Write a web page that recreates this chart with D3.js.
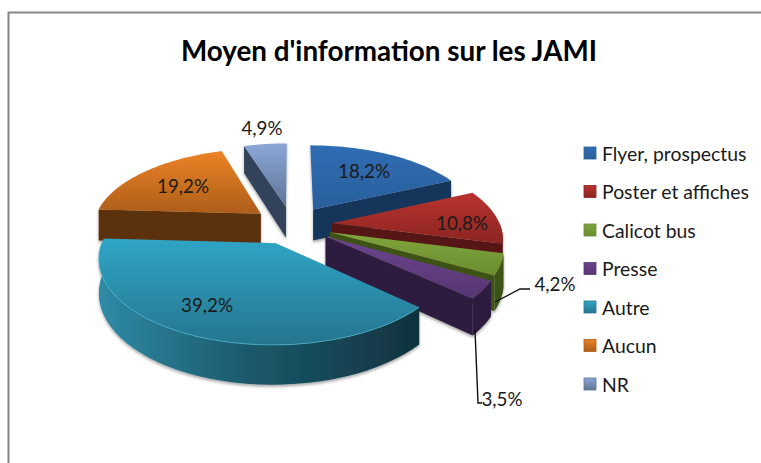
<!DOCTYPE html>
<meta charset="utf-8">
<style>
html, body { margin: 0; padding: 0; background: #fff; }
svg { display: block; }
text { font-family: Lato, "Open Sans", sans-serif; fill: #1a1a1a; }
</style>
<body>
<script src="https://d3js.org/d3.v7.min.js"></script>
<script>
// data
var categories = ["Flyer, prospectus", "Poster et affiches", "Calicot bus", "Presse", "Autre", "Aucun", "NR"];
var values = [18.2, 10.8, 4.2, 3.5, 39.2, 19.2, 4.9];
var labels = ["18,2%", "10,8%", "4,2%", "3,5%", "39,2%", "19,2%", "4,9%"];

// colours per slice: top of face, bottom of face, side
var topLight = ["#2f6db3", "#b9332f", "#7fa53c", "#6c448c", "#2fa5c6", "#ec8226", "#8ca7d6"];
var topDark = ["#2a5f9c", "#8c2522", "#6b8d30", "#573673", "#27758e", "#ad5e19", "#5e7598"];
var sideColor = ["#17345a", "#561412", "#3d5217", "#2d1d3f", "#123a47", "#5c300e", "#33435a"];

var width = 761, height = 463;

// fake 3D projection of the exploded pie
var cx = 292, cy = 225, rx = 168, ry = 79, persp = 0.16, depth = 32, explode = 0.24;

// label anchors, order = categories
var labelX = [364, 462, 555, 502, 207, 183, 262];
var labelY = [170, 222, 283, 398, 304, 185, 127];

var svg = d3.select("body").append("svg")
    .attr("width", width)
    .attr("height", height);

var defs = svg.append("defs");
var shadow = defs.append("filter").attr("id", "shadow")
    .attr("x", "-10%").attr("y", "-10%").attr("width", "120%").attr("height", "125%");
shadow.append("feDropShadow")
    .attr("dx", 0).attr("dy", 2).attr("stdDeviation", 1.6)
    .attr("flood-color", "#000").attr("flood-opacity", 0.35);

categories.forEach(function(c, i) {
  var g = defs.append("linearGradient").attr("id", "top" + i)
      .attr("x1", 0).attr("y1", 0).attr("x2", 0).attr("y2", 1);
  g.append("stop").attr("offset", 0).attr("stop-color", topLight[i]);
  g.append("stop").attr("offset", 1).attr("stop-color", topDark[i]);
});

var rim = defs.append("linearGradient").attr("id", "rimAutre")
    .attr("x1", 0).attr("y1", 0).attr("x2", 1).attr("y2", 0);
rim.append("stop").attr("offset", 0).attr("stop-color", "#2f8ba6");
rim.append("stop").attr("offset", 0.45).attr("stop-color", "#1c5a6d");
rim.append("stop").attr("offset", 1).attr("stop-color", "#10323e");

// frame
svg.append("path")
    .attr("d", "M8.5,463V12.5H" + width)
    .attr("fill", "none")
    .attr("stroke", "#868686")
    .attr("stroke-width", 2);

svg.append("text")
    .attr("x", 389).attr("y", 61)
    .attr("text-anchor", "middle")
    .attr("font-size", 27.8)
    .attr("font-weight", 700)
    .style("fill", "#000")
    .text("Moyen d'information sur les JAMI");

var pie = d3.pie().sort(null).value(function(d) { return d; });
var arcs = pie(values);
var line = d3.line();

function project(ox, oz, a, r, h) {
  var X = ox + Math.sin(a) * r,
      Z = oz - Math.cos(a) * r,
      p = 1 / (1 - Z * persp);
  return [cx + rx * X * p, cy + ry * Z * p + (h || 0) * p];
}

// back to front
var drawOrder = [6, 5, 0, 1, 2, 3, 4];
var layer = svg.append("g").attr("filter", "url(#shadow)");

drawOrder.forEach(function(i) {
  var d = arcs[i],
      mid = (d.startAngle + d.endAngle) / 2,
      ox = Math.sin(mid) * explode,
      oz = -Math.cos(mid) * explode,
      g = layer.append("g");

  var a0 = project(ox, oz, 0, 0), a1 = project(ox, oz, 0, 0, depth);

  // cut faces, only those turned to the viewer
  [d.startAngle, d.endAngle].forEach(function(a, k) {
    var visible = k === 0 ? Math.sin(a) < 0 : Math.sin(a) > 0;
    if (!visible) return;
    var quad = [a0, project(ox, oz, a, 1), project(ox, oz, a, 1, depth), a1];
    g.append("path").attr("d", line(quad) + "Z").attr("fill", sideColor[i]);
  });

  // visible part of the outer wall
  var from = Math.max(d.startAngle, Math.PI / 2),
      to = Math.min(d.endAngle, Math.PI * 1.5);
  var wallAngles = d3.range(0, 41).map(function(k) { return from + (to - from) * k / 40; });
  if (to > from) {
    var wall = wallAngles.map(function(a) { return project(ox, oz, a, 1); })
        .concat(wallAngles.slice().reverse().map(function(a) { return project(ox, oz, a, 1, depth); }));
    g.append("path").attr("d", line(wall) + "Z")
        .attr("fill", i === 4 ? "url(#rimAutre)" : sideColor[i]);
  }

  // top face
  var rimAngles = d3.range(0, 41).map(function(k) {
    return d.startAngle + (d.endAngle - d.startAngle) * k / 40;
  });
  var face = [a0].concat(rimAngles.map(function(a) { return project(ox, oz, a, 1); }));
  g.append("path").attr("d", line(face) + "Z").attr("fill", "url(#top" + i + ")");

  // light bevel along the front edge of the big slice
  if (i === 4) {
    g.append("path")
        .attr("d", line(wallAngles.map(function(a) { return project(ox, oz, a, 1); })))
        .attr("fill", "none")
        .attr("stroke", "#4cb6d3")
        .attr("stroke-opacity", 0.7)
        .attr("stroke-width", 1);
  }
});

// leader lines
var leaders = [[[495, 302], [520, 289], [530, 289]], [[475, 330], [478, 403], [482, 403]]];
svg.selectAll(".leader").data(leaders).enter().append("path")
    .attr("class", "leader")
    .attr("d", function(d) { return line(d); })
    .attr("fill", "none")
    .attr("stroke", "#111")
    .attr("stroke-width", 1.4);

svg.selectAll(".lbl").data(labels).enter().append("text")
    .attr("class", "lbl")
    .attr("x", function(d, i) { return labelX[i]; })
    .attr("y", function(d, i) { return labelY[i]; })
    .attr("text-anchor", "middle")
    .attr("dominant-baseline", "central")
    .attr("font-size", 18.8)
    .text(function(d) { return d; });

// legend
var legendY = d3.scalePoint().domain(categories).range([153, 384]);
var item = svg.selectAll(".item").data(categories).enter().append("g")
    .attr("class", "item")
    .attr("transform", function(d) { return "translate(584," + legendY(d) + ")"; });
item.append("rect")
    .attr("x", 0).attr("y", -6).attr("width", 12).attr("height", 12)
    .attr("fill", function(d, i) { return "url(#top" + i + ")"; })
    .attr("stroke", function(d, i) { return topDark[i]; })
    .attr("stroke-width", 0.8);
item.append("text")
    .attr("x", 18).attr("y", 0)
    .attr("dominant-baseline", "central")
    .attr("font-size", 19.4)
    .text(function(d) { return d; });
</script>
</body>
